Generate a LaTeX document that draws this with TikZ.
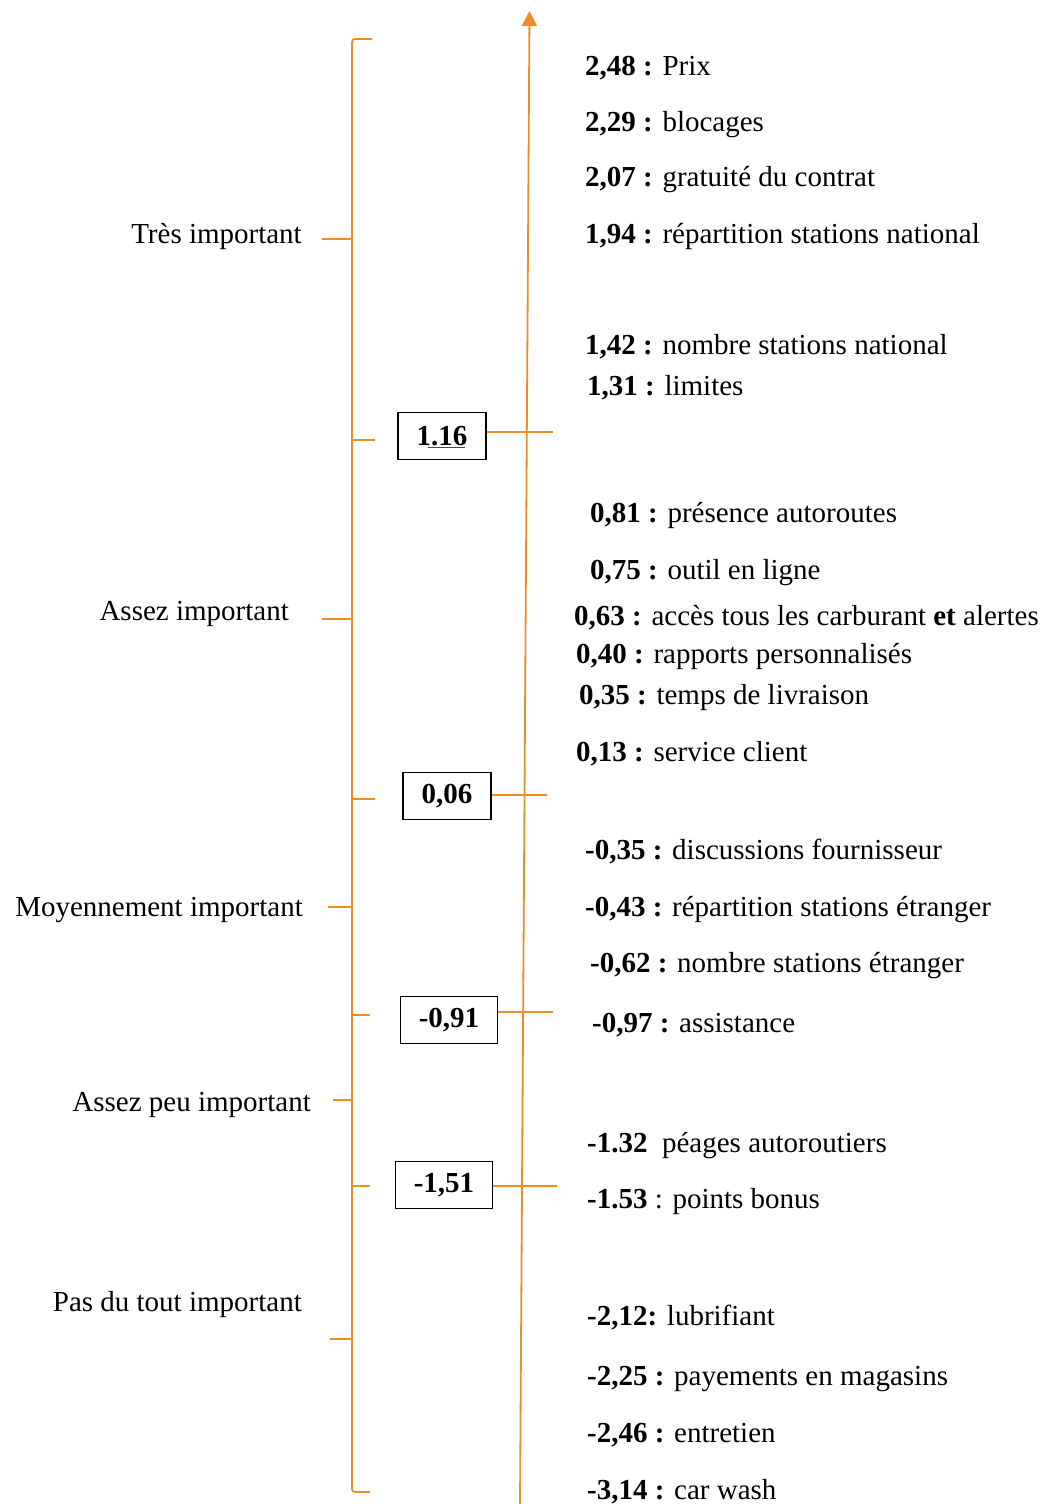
\documentclass[tikz,border=0pt]{standalone}
\usepackage{fontspec}
\setmainfont{Liberation Serif}
\usetikzlibrary{arrows.meta}
\definecolor{axisorange}{RGB}{237,140,40}
\definecolor{spellblue}{RGB}{40,60,220}
\begin{document}
\begin{tikzpicture}[x=1pt,y=-1pt,
  lab/.style={font=\fontsize{29}{34}\selectfont, inner sep=0pt},
  rlab/.style={lab, anchor=base west},
  llab/.style={lab, anchor=base east},
  valbox/.style={draw=black, line width=1.3pt, fill=white, minimum width=88pt, minimum height=47pt, inner sep=0pt, font=\fontsize{29}{34}\selectfont\bfseries},
  oline/.style={draw=axisorange, line width=1.8pt}
]
\useasboundingbox (0,0) rectangle (1045,1504);

% main axis
\coordinate (axbot) at (520,1504);
\coordinate (axtop) at (529.5,11);
\draw[oline, -{Triangle[length=15pt,width=15pt]}] (axbot) -- (axtop);

% left brace
\draw[oline, rounded corners=3pt] (372,39) -- (352,39) -- (352,1492) -- (370,1492);
\foreach \yy/\xx in {239/322, 619/322, 907/328, 1100/333, 1339/330}
  \draw[oline] (352,\yy) -- (\xx,\yy);
\foreach \yy/\xx in {440/375, 799/375, 1015/370, 1186/370}
  \draw[oline] (352,\yy) -- (\xx,\yy);

% left labels
\node[llab] (l1) at (302,243) {Très important};
\node[llab] (l2) at (289,620) {Assez important};
\node[llab] (l3) at (303,916) {Moyennement important};
\node[llab] (l4) at (311,1111) {Assez peu important};
\node[llab] (l5) at (302,1311) {Pas du tout important};

% threshold boxes
\node[valbox] (b1) at (442,436) {1.16};
\node[valbox] (b2) at (447,796) {0,06};
\node[valbox, minimum width=97pt] (b3) at (449,1020) {-0,91};
\node[valbox, minimum width=97pt] (b4) at (444,1185) {-1,51};
\draw[spellblue, line width=0.9pt] (428,447) -- (465,447);
\coordinate (t1) at (553,432);
\coordinate (t2) at (547,795);
\coordinate (t3) at (553,1012);
\coordinate (t4) at (557,1186);
\draw[oline] (t1 -| b1.east) -- (t1);
\draw[oline] (t2 -| b2.east) -- (t2);
\draw[oline] (t3 -| b3.east) -- (t3);
\draw[oline] (t4 -| b4.east) -- (t4);

% right labels
\node[rlab] (r1) at (585,75) {\textbf{2,48 :} Prix};
\node[rlab] (r2) at (585,131) {\textbf{2,29 :} blocages};
\node[rlab] (r3) at (585,186) {\textbf{2,07 :} gratuité du contrat};
\node[rlab] (r4) at (585,243) {\textbf{1,94 :} répartition stations national};
\node[rlab] (r5) at (585,354) {\textbf{1,42 :} nombre stations national};
\node[rlab] (r6) at (587,395) {\textbf{1,31 :} limites};
\node[rlab] (r7) at (590,522) {\textbf{0,81 :} présence autoroutes};
\node[rlab] (r8) at (590,579) {\textbf{0,75 :} outil en ligne};
\node[rlab] (r9) at (574,625) {\textbf{0,63 :} accès tous les carburant \textbf{et} alertes};
\node[rlab] (r10) at (576,663) {\textbf{0,40 :} rapports personnalisés};
\node[rlab] (r11) at (579,704) {\textbf{0,35 :} temps de livraison};
\node[rlab] (r12) at (576,761) {\textbf{0,13 :} service client};
\node[rlab] (r13) at (585,859) {\textbf{-0,35 :} discussions fournisseur};
\node[rlab] (r14) at (585,916) {\textbf{-0,43 :} répartition stations étranger};
\node[rlab] (r15) at (590,972) {\textbf{-0,62 :} nombre stations étranger};
\node[rlab] (r16) at (592,1032) {\textbf{-0,97 :} assistance};
\node[rlab] (r17) at (587,1152) {\textbf{-1.32}\ \ péages autoroutiers};
\node[rlab] (r18) at (587,1208) {\textbf{-1.53} : points bonus};
\node[rlab] (r19) at (587,1325) {\textbf{-2,12:} lubrifiant};
\node[rlab] (r20) at (587,1385) {\textbf{-2,25 :} payements en magasins};
\node[rlab] (r21) at (587,1442) {\textbf{-2,46 :} entretien};
\node[rlab] (r22) at (587,1499) {\textbf{-3,14 :} car wash};
\end{tikzpicture}
\end{document}
